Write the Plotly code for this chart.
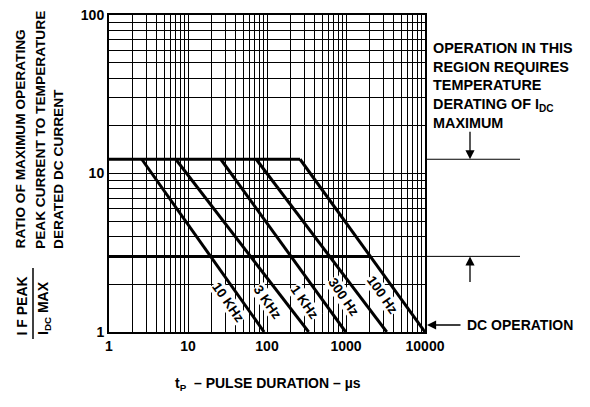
import math
import plotly.graph_objects as go

# ---- data ----
freq_labels = ["10 KHz", "3 KHz", "1 KHz", "300 Hz", "100 Hz"]
knee_tp = [2.6, 7.0, 26.0, 73.0, 262.0]        # pulse duration where curve leaves plateau
end_tp = [92.0, 337.0, 990.0, 3280.0, 10000.0]  # pulse duration where curve reaches ratio 1
plateau_ratio = 12.3
derate_ratio = 3.0
derate_end_tp = 2030.0
dc_ratio = 1.0
x_decades = [1, 10, 100, 1000, 10000]
y_decades = [1, 10, 100]
# label positions (log10 tp, log10 ratio)
label_x = [1.506, 2.013, 2.481, 2.962, 3.468]
label_y = [0.183, 0.189, 0.189, 0.221, 0.233]

FONT = "Liberation Sans, Arial, Helvetica, sans-serif"

# page offset (browser body margin) compensation
OX, OY = 8, 8
L, T, PW, PH = 109 - OX, 15 - OY, 316, 317

def px(xp):
    return (xp - 109) / PW

def py(yp):
    return (332 - yp) / PH

fig = go.Figure()

line_style = dict(color="black", width=3)
fig.add_trace(go.Scatter(x=[x_decades[0], knee_tp[-1]], y=[plateau_ratio, plateau_ratio],
                         mode="lines", line=line_style, showlegend=False, hoverinfo="skip"))
fig.add_trace(go.Scatter(x=[x_decades[0], derate_end_tp], y=[derate_ratio, derate_ratio],
                         mode="lines", line=line_style, showlegend=False, hoverinfo="skip"))
for k, e in zip(knee_tp, end_tp):
    fig.add_trace(go.Scatter(x=[k, e], y=[plateau_ratio, dc_ratio], mode="lines",
                             line=line_style, showlegend=False, hoverinfo="skip"))

# grid tick values
xt, xtt = [], []
for d in x_decades[:-1]:
    for m in range(1, 10):
        xt.append(d * m)
        xtt.append(str(d) if m == 1 else "")
xt.append(x_decades[-1]); xtt.append(str(x_decades[-1]))
yt, ytt = [], []
for d in y_decades[:-1]:
    for m in range(1, 10):
        yt.append(d * m)
        ytt.append(str(d) if m == 1 else "")
yt.append(y_decades[-1]); ytt.append(str(y_decades[-1]))

tickfont = dict(family=FONT, size=14, color="black", weight="bold")
fig.update_xaxes(type="log", range=[0, 4], tickmode="array", tickvals=xt, ticktext=xtt,
                 showgrid=True, gridcolor="black", gridwidth=1, showline=True, linecolor="black",
                 linewidth=2, mirror=True, ticks="", tickfont=tickfont, zeroline=False,
                 automargin=False, ticklabeloverflow="allow")
fig.update_yaxes(type="log", range=[0, 2], tickmode="array", tickvals=yt, ticktext=ytt,
                 showgrid=True, gridcolor="black", gridwidth=1, showline=True, linecolor="black",
                 linewidth=2, mirror=True, ticks="", tickfont=tickfont, zeroline=False,
                 automargin=False, ticklabeloverflow="allow")

ann = []
bold14 = dict(family=FONT, size=14, color="black", weight="bold")
for t, lx, ly in zip(freq_labels, label_x, label_y):
    ann.append(dict(x=lx, y=ly, xref="x", yref="y", text=t, showarrow=False, textangle=55,
                    bgcolor="white", borderpad=0,
                    font=dict(family=FONT, size=13.5, color="black", weight="bold")))

# right side text
ann.append(dict(x=px(431), y=py(38), xref="paper", yref="paper", xanchor="left", yanchor="top",
                align="left", showarrow=False,
                font=dict(family=FONT, size=14.4, color="black", weight="bold"),
                text="OPERATION IN THIS<br>REGION REQUIRES<br>TEMPERATURE<br>DERATING OF I<sub>DC</sub><br>MAXIMUM"))
# arrows
ann.append(dict(x=px(470), y=math.log10(plateau_ratio), xref="paper", yref="y", ax=0, ay=-29,
                text="", showarrow=True, arrowhead=2, arrowsize=1.4, arrowwidth=1.3, arrowcolor="black"))
ann.append(dict(x=px(470), y=math.log10(derate_ratio), xref="paper", yref="y", ax=0, ay=27,
                text="", showarrow=True, arrowhead=2, arrowsize=1.4, arrowwidth=1.3, arrowcolor="black"))
ann.append(dict(x=px(427), y=py(325), xref="paper", yref="paper", ax=35, ay=0,
                text="", showarrow=True, arrowhead=2, arrowsize=1.4, arrowwidth=1.3, arrowcolor="black"))
ann.append(dict(x=px(465), y=py(325), xref="paper", yref="paper", xanchor="left", yanchor="middle",
                text="DC OPERATION", showarrow=False, font=bold14))

# x title
ann.append(dict(x=px(268), y=py(384), xref="paper", yref="paper", xanchor="center", yanchor="middle",
                text="t<sub>P</sub>  – PULSE DURATION – µs", showarrow=False, font=bold14))

# y title lines
ytitle = ["RATIO OF MAXIMUM OPERATING", "PEAK CURRENT TO TEMPERATURE", "DERATED DC CURRENT"]
ypx = [20, 40, 58]
ytfont = dict(family=FONT, size=13.7, color="black", weight="bold")
for t, xp in zip(ytitle, ypx):
    ann.append(dict(x=px(xp), y=py(250), xref="paper", yref="paper",
                    xanchor="center", yanchor="bottom", textangle=-90, text=t, borderpad=0,
                    showarrow=False, font=ytfont))
# fraction
ann.append(dict(x=px(22), y=py(337), xref="paper", yref="paper",
                xanchor="center", yanchor="bottom", textangle=-90, text="I F PEAK",
                showarrow=False, font=bold14))
ann.append(dict(x=px(44), y=py(337), xref="paper", yref="paper",
                xanchor="center", yanchor="bottom", textangle=-90, text="I<sub>DC</sub> MAX",
                showarrow=False, font=bold14))

shapes = [
    dict(type="line", xref="paper", yref="y", x0=1, x1=px(520), y0=plateau_ratio, y1=plateau_ratio,
         line=dict(color="black", width=1)),
    dict(type="line", xref="paper", yref="y", x0=1, x1=px(520), y0=derate_ratio, y1=derate_ratio,
         line=dict(color="black", width=1)),
    dict(type="line", xref="paper", yref="paper", x0=px(33), x1=px(33),
         y0=py(268), y1=py(339), line=dict(color="black", width=1.5)),
]

fig.update_layout(width=590 - OX, height=407 - OY,
                  margin=dict(l=L, r=590 - OX - L - PW, t=T, b=407 - OY - T - PH),
                  plot_bgcolor="white", paper_bgcolor="white", annotations=ann, shapes=shapes,
                  font=dict(family=FONT, color="black"))

fig.write_html("out.html")
